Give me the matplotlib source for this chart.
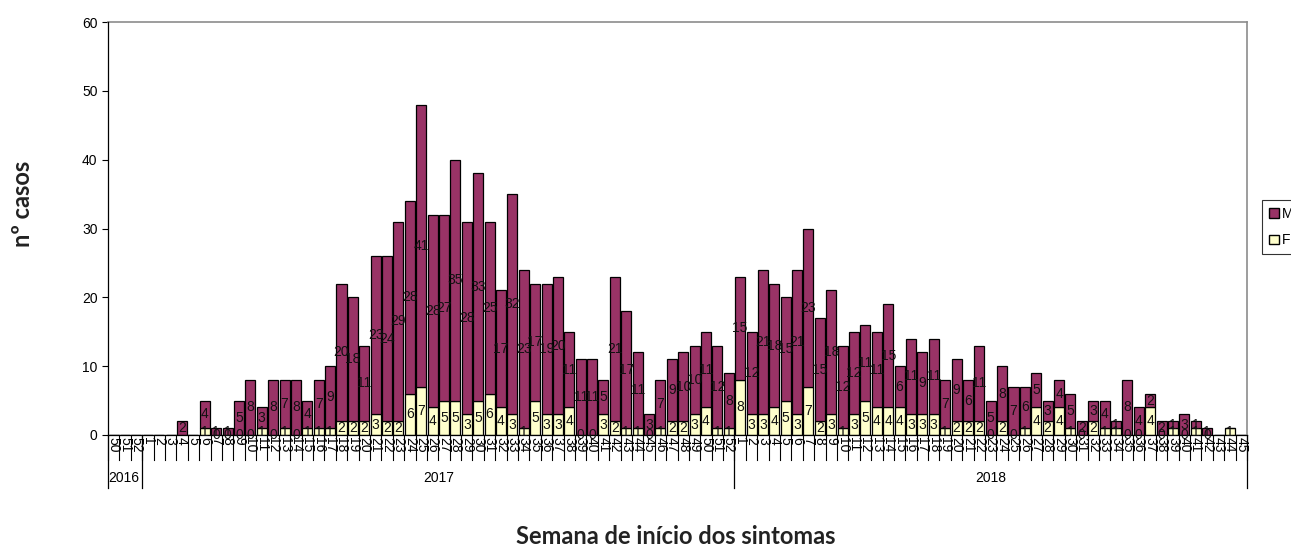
import numpy as np
import matplotlib
matplotlib.use("Agg")
import matplotlib.pyplot as plt
from matplotlib.patches import Patch
import matplotlib.transforms as mtransforms

nan = np.nan
years = ["2016", "2017", "2018"]
weeks_2016 = [50, 51, 52]
weeks_2017 = list(range(1, 53))
weeks_2018 = list(range(1, 46))

m_2016 = [nan, nan, nan]
f_2016 = [nan, nan, nan]
m_2017 = [nan, nan, nan, 2, nan, 4, 1, 1, 5, 8, 3, 8, 7, 8, 4, 7, 9, 20, 18, 11,
          23, 24, 29, 28, 41, 28, 27, 35, 28, 33, 25, 17, 32, 23, 17, 19, 20, 11, 11, 11,
          5, 21, 17, 11, 3, 7, 9, 10, 10, 11, 12, 8]
f_2017 = [nan, nan, nan, nan, nan, 1, 0, 0, 0, 0, 1, 0, 1, 0, 1, 1, 1, 2, 2, 2,
          3, 2, 2, 6, 7, 4, 5, 5, 3, 5, 6, 4, 3, 1, 5, 3, 3, 4, 0, 0,
          3, 2, 1, 1, 0, 1, 2, 2, 3, 4, 1, 1]
m_2018 = [15, 12, 21, 18, 15, 21, 23, 15, 18, 12, 12, 11, 11, 15, 6, 11, 9, 11, 7, 9,
          6, 11, 5, 8, 7, 6, 5, 3, 4, 5, 2, 3, 4, 1, 8, 4, 2, 2, 1, 3,
          1, 1, nan, nan, nan]
f_2018 = [8, 3, 3, 4, 5, 3, 7, 2, 3, 1, 3, 5, 4, 4, 4, 3, 3, 3, 1, 2,
          2, 2, 0, 2, 0, 1, 4, 2, 4, 1, 0, 2, 1, 1, 0, 0, 4, 0, 1, 0,
          1, 0, nan, 1, nan]

week_labels = [str(w) for w in weeks_2016 + weeks_2017 + weeks_2018]
group_sizes = [len(weeks_2016), len(weeks_2017), len(weeks_2018)]
M = np.array(m_2016 + m_2017 + m_2018, dtype=float)
F = np.array(f_2016 + f_2017 + f_2018, dtype=float)

plt.rcParams['font.family'] = ['Liberation Sans', 'DejaVu Sans']

W, H = 1291, 547
fig = plt.figure(figsize=(W / 100, H / 100), dpi=100)
L, R, T, B = 108, 1247, 22, 435
ax = fig.add_axes([L / W, 1 - B / H, (R - L) / W, (B - T) / H])

n = len(M)
x = np.arange(n)
Fv = np.nan_to_num(F)
Mv = np.nan_to_num(M)
col_m = "#993366"
col_f = "#FFFFCC"
bw = 0.88
ax.bar(x, Fv, bw, color=col_f, edgecolor="black", linewidth=0.9, zorder=2)
ax.bar(x, Mv, bw, bottom=Fv, color=col_m, edgecolor="black", linewidth=0.9, zorder=2)

lab_fs = 10
for i in range(n):
    if not np.isnan(F[i]):
        ax.text(x[i], F[i] / 2, f"{int(F[i])}", ha="center", va="center",
                fontsize=lab_fs, color="#111111", zorder=3)
    if not np.isnan(M[i]):
        ax.text(x[i], Fv[i] + M[i] / 2, f"{int(M[i])}", ha="center", va="center",
                fontsize=lab_fs, color="#111111", zorder=3)

ax.set_xlim(-0.5, n - 0.5)
ax.set_ylim(0, 60)
ax.set_yticks(range(0, 61, 10))
ax.tick_params(axis="y", labelsize=10, length=4, width=0.8, direction="out")
ax.set_xticks([])
for s in ["top", "right"]:
    ax.spines[s].set_color("#8c8c8c")
    ax.spines[s].set_linewidth(1.2)
ax.spines["left"].set_linewidth(0.9)
ax.spines["bottom"].set_linewidth(0.9)
ax.spines["left"].set_zorder(4)

ph = B - T
trans = mtransforms.blended_transform_factory(ax.transData, ax.transAxes)
# week separators
for i in range(n + 1):
    ax.plot([i - 0.5, i - 0.5], [0, -25 / ph], transform=trans, color="black",
            lw=0.8, clip_on=False)
# week labels
for i, lab in enumerate(week_labels):
    ax.text(x[i], -2 / ph, lab, transform=trans, rotation=-90, ha="center",
            va="top", fontsize=10, clip_on=False)
# year separators and labels
bounds = [0]
for g in group_sizes:
    bounds.append(bounds[-1] + g)
for b in bounds:
    ax.plot([b - 0.5, b - 0.5], [0, -53 / ph], transform=trans, color="black",
            lw=0.9, clip_on=False)
for k, yr in enumerate(years):
    a, b = bounds[k], bounds[k + 1]
    if k == 0:
        ax.text(a - 0.45, -43 / ph, yr, transform=trans, ha="left", va="center",
                fontsize=10, clip_on=False)
    else:
        ax.text((a + b - 1) / 2, -43 / ph, yr, transform=trans, ha="center",
                va="center", fontsize=10, clip_on=False)

fig.text(22 / W, 1 - 204 / H, "nº casos", rotation=90, ha="center", va="center",
         fontsize=17, fontweight="bold", family=["Lato", "DejaVu Sans"],
         color="#222222")
fig.text(676 / W, 1 - 536 / H, "Semana de início dos sintomas", ha="center",
         va="center", fontsize=17, fontweight="bold",
         family=["Lato", "DejaVu Sans"], color="#222222")

handles = [Patch(facecolor=col_m, edgecolor="black", label="M"),
           Patch(facecolor=col_f, edgecolor="black", label="F")]
leg = fig.legend(handles=handles, loc="upper left",
                 bbox_to_anchor=(1262 / W, 1 - 200 / H), fontsize=10,
                 frameon=True, fancybox=False, edgecolor="black",
                 handlelength=0.7, handleheight=0.7, handletextpad=0.2,
                 borderpad=0.5, labelspacing=0.9, borderaxespad=0)
leg.get_frame().set_linewidth(0.8)

fig.savefig("out.png", dpi=100)
